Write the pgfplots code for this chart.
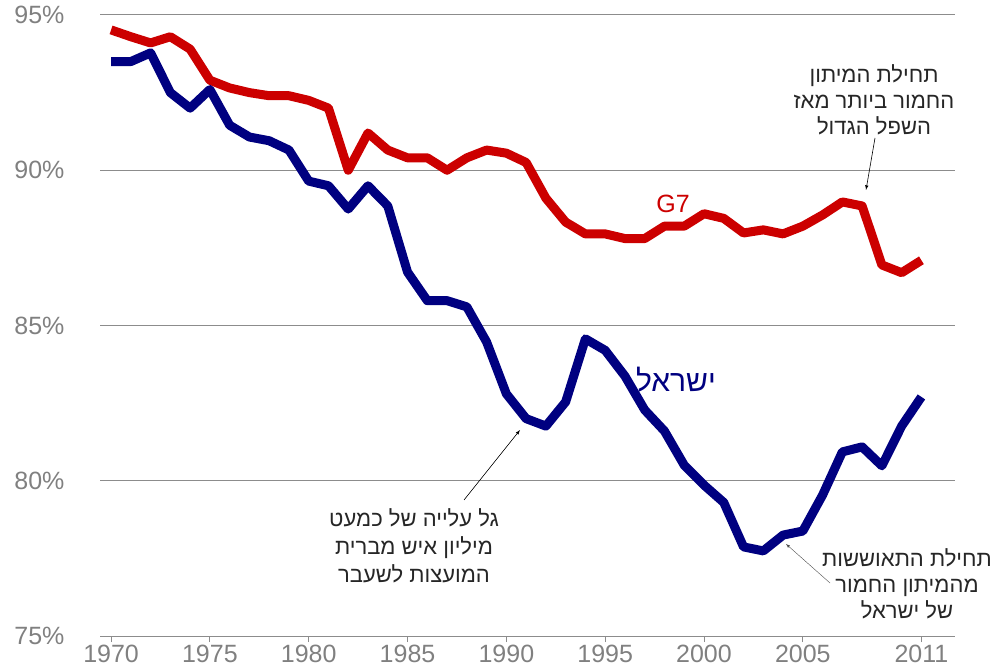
\documentclass[border=0pt]{standalone}
\usepackage{pgfplots}
\pgfplotsset{compat=1.18}
\usepackage{fontspec}
\setmainfont{Liberation Sans}
\newfontfamily\hebfont[Script=Hebrew]{Liberation Sans}
\TeXXeTstate=1
\definecolor{gred}{HTML}{CC0000}
\definecolor{isblue}{HTML}{000080}
\definecolor{lbl}{HTML}{808080}
\definecolor{grd}{HTML}{8C8C8C}

\pgfplotstableread{
year g7 isr
1970 94.52 93.50
1971 94.30 93.50
1972 94.10 93.78
1973 94.30 92.50
1974 93.90 92.00
1975 92.90 92.60
1976 92.65 91.45
1977 92.50 91.07
1978 92.40 90.95
1979 92.40 90.65
1980 92.25 89.65
1981 92.00 89.50
1982 90.00 88.75
1983 91.20 89.50
1984 90.65 88.85
1985 90.40 86.72
1986 90.40 85.80
1987 90.00 85.80
1988 90.40 85.60
1989 90.65 84.47
1990 90.55 82.80
1991 90.25 82.00
1992 89.10 81.76
1993 88.33 82.54
1994 87.95 84.57
1995 87.95 84.20
1996 87.80 83.37
1997 87.80 82.28
1998 88.20 81.60
1999 88.20 80.50
2000 88.60 79.86
2001 88.45 79.30
2002 87.98 77.87
2003 88.08 77.74
2004 87.95 78.25
2005 88.20 78.38
2006 88.56 79.54
2007 88.98 80.93
2008 88.85 81.09
2009 86.95 80.48
2010 86.70 81.76
2011 87.10 82.70
}\datatable

\begin{document}
\begin{tikzpicture}[x=1pt,y=1pt]
\path[use as bounding box] (0,0) rectangle (990,670);
\begin{axis}[
  at={(100pt,34pt)}, anchor=south west,
  scale only axis, width=855pt, height=621pt,
  xmin=1969.44, xmax=2012.7,
  ymin=75, ymax=95,
  axis lines*=left,
  y axis line style={draw=none},
  x axis line style={grd, line width=1pt},
  xtick={1970,1975,1980,1985,1990,1995,2000,2005,2011},
  xticklabels={1970,1975,1980,1985,1990,1995,2000,2005,2011},
  ytick={75,80,85,90,95},
  yticklabels={75\%,80\%,85\%,90\%,95\%},
  tick align=outside,
  x tick style={grd, line width=0.8pt},
  major tick length=6pt,
  y tick style={draw=none},
  ymajorgrids, grid style={grd, line width=1pt},
  xticklabel style={font=\fontsize{25}{25}\selectfont, text=lbl},
  yticklabel style={font=\fontsize{25}{25}\selectfont, text=lbl, anchor=east, xshift=-26pt},
  /pgf/number format/assume math mode=true,
  clip=false,
]
\addplot[gred, line width=9pt, line join=round] table[x=year, y=g7] {\datatable};
\addplot[isblue, line width=9pt, line join=round] table[x=year, y=isr] {\datatable};
\end{axis}

% labels
\node[text=gred, font=\fontsize{25}{25}\selectfont] at (673,466) {G7};
\node[text=isblue, font=\hebfont\fontsize{30}{30}\selectfont] at (676,290) {\beginR ישראל\endR};

\node[align=center, font=\hebfont\fontsize{22}{26}\selectfont, text=black!85] at (874,570)
 {\beginR תחילת המיתון\endR\\ \beginR החמור ביותר מאז\endR\\ \beginR השפל הגדול\endR};
\draw[-latex, line width=0.6pt] (875,532) -- (866,480);

\node[align=center, font=\hebfont\fontsize{22}{28}\selectfont, text=black!85] at (414,124)
 {\beginR גל עלייה של כמעט\endR\\ \beginR מיליון איש מברית\endR\\ \beginR המועצות לשעבר\endR};
\draw[-latex, line width=0.6pt] (464,170) -- (520,240);

\node[align=center, font=\hebfont\fontsize{22}{26}\selectfont, text=black!85] at (907,86)
 {\beginR תחילת התאוששות\endR\\ \beginR מהמיתון החמור\endR\\ \beginR של ישראל\endR};
\draw[-latex, line width=0.4pt, black!70] (830,87) -- (786,126);
\end{tikzpicture}
\end{document}
